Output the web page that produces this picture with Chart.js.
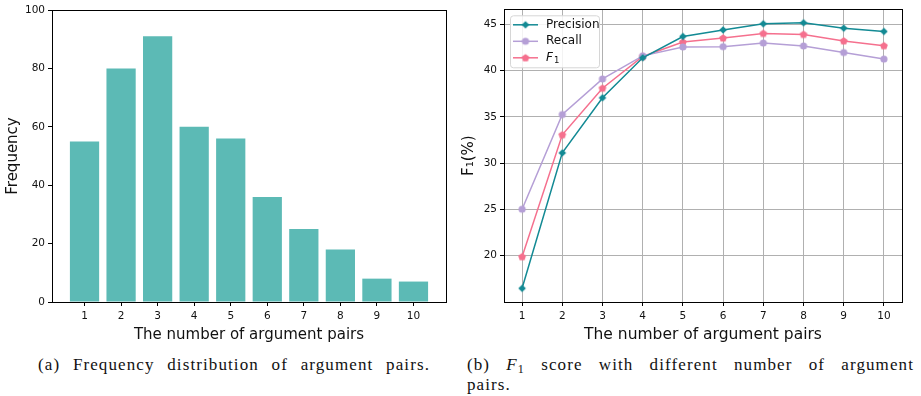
<!DOCTYPE html>
<html>
<head>
<meta charset="utf-8">
<script src="https://cdn.jsdelivr.net/npm/chart.js@4.4.1/dist/chart.umd.min.js"></script>
<style>
  body { margin:0; background:#fff; width:921px; height:396px; position:relative; overflow:hidden; }
  canvas { position:absolute; top:0; }
  #left { left:0; }
  #right { left:460px; }
  .cap { position:absolute; font-family:"Liberation Serif", serif; font-size:17px; line-height:20px; letter-spacing:1.1px; color:#111; white-space:nowrap; }
  .just { text-align:justify; text-align-last:justify; white-space:normal; }
  sub { font-size:12px; line-height:0; vertical-align:-3px; }
</style>
</head>
<body>
<canvas id="left" width="460" height="345"></canvas>
<canvas id="right" width="461" height="345"></canvas>
<div class="cap just" style="left:38px; top:355px; width:392px;">(a) Frequency distribution of argument pairs.</div>
<div class="cap just" style="left:467px; top:355px; width:447px;">(b) <i>F</i><sub>1</sub> score with different number of argument</div>
<div class="cap" style="left:467px; top:375px;">pairs.</div>
<script>
const pairs = [1, 2, 3, 4, 5, 6, 7, 8, 9, 10];
const freq = [55, 80, 91, 60, 56, 36, 25, 18, 8, 7];
const freqTicks = [0, 20, 40, 60, 80, 100];

const precision = [16.44, 31.1, 37.06, 41.39, 43.7, 44.41, 45.07, 45.18, 44.6, 44.24];
const recall = [25.0, 35.25, 39.1, 41.6, 42.56, 42.6, 42.99, 42.67, 41.96, 41.25];
const f1 = [19.86, 33.06, 38.1, 41.53, 43.1, 43.53, 44.03, 43.92, 43.22, 42.7];
const f1Ticks = [20, 25, 30, 35, 40, 45];

const tickFont = { family: 'DejaVu Sans', size: 10.5 };
const titleFont = { family: 'DejaVu Sans', size: 15 };

// small canvases used as point markers (chart + legend)
function makeMarker(kind, color) {
  const c = document.createElement('canvas');
  c.width = 10; c.height = 10;
  const g = c.getContext('2d');
  g.fillStyle = color;
  g.beginPath();
  if (kind === 'diamond') {
    g.moveTo(5, 1.2); g.lineTo(8.8, 5); g.lineTo(5, 8.8); g.lineTo(1.2, 5);
  } else if (kind === 'circle') {
    g.arc(5, 5, 3.6, 0, Math.PI * 2);
  } else {
    for (let i = 0; i < 5; i++) {
      const a = -Math.PI / 2 + i * 2 * Math.PI / 5;
      const px = 5 + 4.1 * Math.cos(a), py = 5.3 + 4.1 * Math.sin(a);
      i ? g.lineTo(px, py) : g.moveTo(px, py);
    }
  }
  g.closePath();
  g.fill();
  return c;
}

const series = [
  { label: 'Precision', data: precision, color: '#138a94', marker: makeMarker('diamond', '#138a94') },
  { label: 'Recall', data: recall, color: '#b59fd6', marker: makeMarker('circle', '#b59fd6') },
  { label: 'F1', data: f1, color: '#f5708e', marker: makeMarker('pentagon', '#f5708e') }
];

const frame = {
  id: 'frame',
  afterDraw(chart) {
    const { ctx, chartArea: a } = chart;
    ctx.save();
    ctx.strokeStyle = '#000';
    ctx.lineWidth = 1;
    ctx.strokeRect(Math.round(a.left) + 0.5, Math.round(a.top) + 0.5,
      Math.round(a.right - a.left), Math.round(a.bottom - a.top));
    ctx.restore();
  }
};

const legendBox = {
  id: 'legendBox',
  afterDraw(chart) {
    const { ctx, chartArea: a } = chart;
    const x = a.left + 6, y = a.top + 6, w = 89, h = 52;
    ctx.save();
    ctx.fillStyle = 'rgba(255,255,255,0.85)';
    ctx.strokeStyle = '#d6d6d6';
    ctx.lineWidth = 1;
    ctx.beginPath();
    ctx.roundRect(x + 0.5, y + 0.5, w, h, 3);
    ctx.fill();
    ctx.stroke();
    series.forEach((s, i) => {
      const cy = y + 9.5 + i * 16.5;
      ctx.strokeStyle = s.color;
      ctx.lineWidth = 1.5;
      ctx.beginPath();
      ctx.moveTo(x + 3, cy); ctx.lineTo(x + 28, cy);
      ctx.stroke();
      ctx.drawImage(s.marker, x + 15.5 - 5, cy - 5);
      ctx.fillStyle = '#111';
      ctx.textBaseline = 'middle';
      if (s.label === 'F1') {
        ctx.font = 'italic 12px DejaVu Sans';
        ctx.fillText('F', x + 36, cy);
        ctx.font = '8.5px DejaVu Sans';
        ctx.fillText('1', x + 44, cy + 3);
      } else {
        ctx.font = '12px DejaVu Sans';
        ctx.fillText(s.label, x + 36, cy);
      }
    });
    ctx.restore();
  }
};

new Chart(document.getElementById('left'), {
  type: 'bar',
  data: {
    datasets: [{
      data: pairs.map((p, i) => ({ x: p, y: freq[i] })),
      backgroundColor: '#5cbab5',
      categoryPercentage: 1,
      barPercentage: 0.8
    }]
  },
  options: {
    responsive: false,
    animation: false,
    layout: { padding: { top: 10, right: 14, left: 0, bottom: 0 } },
    plugins: { legend: { display: false }, tooltip: { enabled: false } },
    scales: {
      x: {
        type: 'linear', offset: false, min: 0.11, max: 10.89,
        afterBuildTicks: s => { s.ticks = pairs.map(v => ({ value: v })); },
        afterFit: s => { s.height = 43; },
        grid: { offset: false, drawOnChartArea: false, tickLength: 4, tickColor: '#000', tickWidth: 1 },
        border: { display: false },
        ticks: { font: tickFont, color: '#111', padding: 4, maxRotation: 0 },
        title: { display: true, text: 'The number of argument pairs', font: titleFont, color: '#111', padding: { top: 0, bottom: 1 } }
      },
      y: {
        min: 0, max: 100,
        afterBuildTicks: s => { s.ticks = freqTicks.map(v => ({ value: v })); },
        afterFit: s => { s.width = 52; },
        grid: { drawOnChartArea: false, tickLength: 4, tickColor: '#000', tickWidth: 1 },
        border: { display: false },
        ticks: { font: tickFont, color: '#111', padding: 3 },
        title: { display: true, text: 'Frequency', font: titleFont, color: '#111', padding: { top: 4, bottom: 0 } }
      }
    }
  },
  plugins: [frame]
});

new Chart(document.getElementById('right'), {
  type: 'line',
  data: {
    datasets: series.map(s => ({
      label: s.label,
      data: pairs.map((p, i) => ({ x: p, y: s.data[i] })),
      borderColor: s.color,
      backgroundColor: s.color,
      borderWidth: 1.5,
      pointStyle: s.marker,
      tension: 0
    }))
  },
  options: {
    responsive: false,
    animation: false,
    layout: { padding: { top: 5, right: 19, left: 0, bottom: 0 } },
    plugins: { legend: { display: false }, tooltip: { enabled: false } },
    scales: {
      x: {
        type: 'linear', min: 0.55, max: 10.45,
        afterBuildTicks: s => { s.ticks = pairs.map(v => ({ value: v })); },
        afterFit: s => { s.height = 43; },
        grid: { color: '#b0b0b0', lineWidth: 1, tickLength: 4, tickColor: '#000', tickWidth: 1 },
        border: { display: false },
        ticks: { font: tickFont, color: '#111', padding: 4, maxRotation: 0 },
        title: { display: true, text: 'The number of argument pairs', font: { family: 'DejaVu Sans', size: 15.5 }, color: '#111', padding: { top: 0, bottom: 1 } }
      },
      y: {
        min: 14.96, max: 46.64,
        afterBuildTicks: s => { s.ticks = f1Ticks.map(v => ({ value: v })); },
        afterFit: s => { s.width = 44; },
        grid: { color: '#b0b0b0', lineWidth: 1, tickLength: 4, tickColor: '#000', tickWidth: 1 },
        border: { display: false },
        ticks: { font: tickFont, color: '#111', padding: 3 },
        title: { display: true, text: 'F₁(%)', font: titleFont, color: '#111', padding: { top: 0, bottom: 0 } }
      }
    }
  },
  plugins: [frame, legendBox]
});
</script>
</body>
</html>
